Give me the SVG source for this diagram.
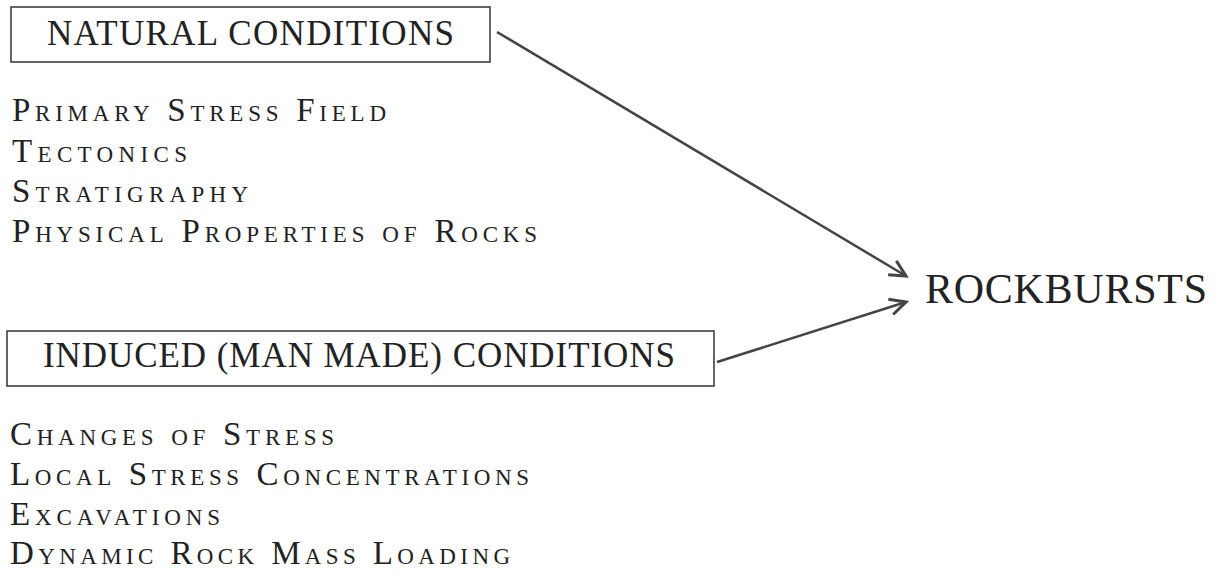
<svg xmlns="http://www.w3.org/2000/svg" width="1218" height="572" viewBox="0 0 1218 572">
<style>
.box{fill:none;stroke:#333;stroke-width:1.5}
.title{font-family:"Liberation Serif",serif;font-size:35px;fill:#222}
.big{font-family:"Liberation Serif",serif;font-size:42px;fill:#222}
.item{font-family:"Liberation Serif",serif;font-size:33px;font-variant:small-caps;fill:#222}
.conn{fill:none;stroke:#444;stroke-width:2.5}
</style>
<defs>
<marker id="ah" markerUnits="userSpaceOnUse" markerWidth="22" markerHeight="22" refX="18" refY="10" viewBox="0 0 22 20" orient="auto">
<path d="M2,2 L18,10 L2,18" fill="none" stroke="#444" stroke-width="3" stroke-linejoin="miter"/>
</marker>
</defs>
<rect width="1218" height="572" fill="#fff"/>
<g id="natural">
<rect class="box" x="11" y="7" width="479" height="55"/>
<text class="title" x="47" y="45" textLength="407" lengthAdjust="spacing">NATURAL CONDITIONS</text>
</g>
<g id="natural-list">
<text class="item" x="12" y="121" textLength="374" lengthAdjust="spacing">Primary Stress Field</text>
<text class="item" x="12" y="162" textLength="175" lengthAdjust="spacing">Tectonics</text>
<text class="item" x="12" y="202" textLength="236" lengthAdjust="spacing">Stratigraphy</text>
<text class="item" x="12" y="242" textLength="525" lengthAdjust="spacing">Physical Properties of Rocks</text>
</g>
<g id="induced">
<rect class="box" x="7" y="331" width="707" height="55"/>
<text class="title" x="43" y="367" textLength="632" lengthAdjust="spacing">INDUCED (MAN MADE) CONDITIONS</text>
</g>
<g id="induced-list">
<text class="item" x="10" y="445" textLength="324" lengthAdjust="spacing">Changes of Stress</text>
<text class="item" x="10" y="485" textLength="519" lengthAdjust="spacing">Local Stress Concentrations</text>
<text class="item" x="10" y="525" textLength="210" lengthAdjust="spacing">Excavations</text>
<text class="item" x="10" y="564" textLength="500" lengthAdjust="spacing">Dynamic Rock Mass Loading</text>
</g>
<g id="rockbursts">
<text class="big" x="925" y="303" textLength="282" lengthAdjust="spacing">ROCKBURSTS</text>
</g>
<g id="connectors">
<line class="conn" x1="497" y1="32" x2="906" y2="276" marker-end="url(#ah)"/>
<line class="conn" x1="717" y1="362" x2="906" y2="302" marker-end="url(#ah)"/>
</g>
</svg>
